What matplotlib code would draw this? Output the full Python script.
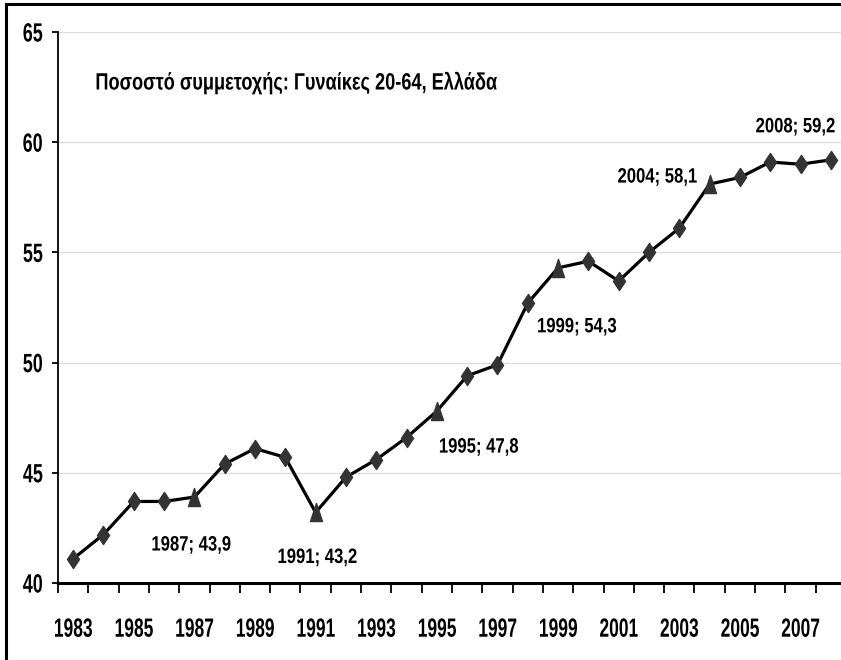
import numpy as np
import matplotlib
matplotlib.use("Agg")
import matplotlib.pyplot as plt
from matplotlib.patches import Rectangle
from matplotlib.path import Path
from matplotlib.transforms import Affine2D
from matplotlib.patheffects import AbstractPathEffect

years = list(range(1983, 2009))
rate = [41.1, 42.2, 43.7, 43.7, 43.9, 45.4, 46.1, 45.7, 43.2, 44.8, 45.6, 46.6, 47.8,
        49.4, 49.9, 52.7, 54.3, 54.6, 53.7, 55.0, 56.1, 58.1, 58.4, 59.1, 59.0, 59.2]
triangle_years = [1987, 1991, 1995, 1999, 2004]
labelled_years = [1987, 1991, 1995, 1999, 2004, 2008]
title = "Ποσοστό συμμετοχής: Γυναίκες 20-64, Ελλάδα"


class Squeeze(AbstractPathEffect):
    """Draw text horizontally condensed (the source uses a narrow font)."""
    def __init__(self, sx, anchor='center'):
        super().__init__()
        self.sx = sx
        self.anchor = anchor

    def draw_path(self, renderer, gc, tpath, affine, rgbFace=None):
        ext = tpath.get_extents()
        cx = {'left': ext.x0, 'center': (ext.x0 + ext.x1) / 2, 'right': ext.x1}[self.anchor]
        t = Affine2D().translate(-cx, 0).scale(self.sx, 1).translate(cx, 0) + affine
        renderer.draw_path(gc, tpath, t, rgbFace)


plt.rcParams['font.family'] = ['Liberation Sans', 'DejaVu Sans']
plt.rcParams['font.weight'] = 'bold'

W, H = 841, 660
fig = plt.figure(figsize=(W / 100, H / 100), dpi=100)
ax = fig.add_axes([58 / W, (H - 583) / H, 788 / W, 551 / H])

x = np.arange(len(years))
y = np.array(rate)
tri = np.array([yr in triangle_years for yr in years])

# tall markers, like the stretched original
diamond = Path([(0, 1), (0.667, 0), (0, -1), (-0.667, 0), (0, 1)],
               [Path.MOVETO, Path.LINETO, Path.LINETO, Path.LINETO, Path.CLOSEPOLY])
triangle = Path([(0, 1), (0.667, -1), (-0.667, -1), (0, 1)],
                [Path.MOVETO, Path.LINETO, Path.LINETO, Path.CLOSEPOLY])

ax.plot(x, y, color='black', lw=2.3, zorder=3)
ax.plot(x[~tri], y[~tri], ls='none', marker=diamond, ms=13, color='#333333', mec='#333333', zorder=4)
ax.plot(x[tri], y[tri], ls='none', marker=triangle, ms=13, color='#333333', mec='#333333', zorder=4)

# label placement: offset in pixels from the point, and alignment
offsets = {1987: (-3, -48), 1991: (2, -45), 1995: (42, -36), 1999: (19, -59),
           2004: (-52, 7), 2008: (5, 33)}
align = {2008: 'right'}
for yr in labelled_years:
    i = years.index(yr)
    txt = f"{yr}; {rate[i]:.1f}".replace('.', ',')
    ha = align.get(yr, 'center')
    ax.annotate(txt, (x[i], y[i]), xytext=offsets[yr], textcoords='offset pixels',
                ha=ha, va='center', fontsize=15, fontweight='bold',
                path_effects=[Squeeze(0.8, ha)])

ax.text((95 - 58) / 788, 1 - (83 - 32) / 551, title, transform=ax.transAxes, fontsize=17,
        fontweight='bold', ha='left', va='center', path_effects=[Squeeze(0.77, 'left')])

ax.set_xlim(-0.5, len(years) - 0.5)
ax.set_ylim(40, 65)
ax.set_yticks(np.arange(40, 66, 5))
ax.yaxis.grid(True, color='#dddddd', lw=1)
ax.set_axisbelow(True)

ax.set_xticks(np.arange(-0.5, len(years), 1.0))
ax.set_xticklabels([])
ax.set_xticks(x[::2], minor=True)
ax.set_xticklabels([str(v) for v in years[::2]], minor=True)
ax.tick_params(axis='x', which='major', length=7, width=1.3, direction='out')
ax.tick_params(axis='x', which='minor', length=0, pad=25, labelsize=19)
ax.tick_params(axis='y', length=4.3, width=1.3, pad=6.5, labelsize=19)
for lab in ax.get_xticklabels(minor=True):
    lab.set_path_effects([Squeeze(0.66)])
for lab in ax.get_yticklabels():
    lab.set_path_effects([Squeeze(0.68, 'right')])

for s in ['top', 'right']:
    ax.spines[s].set_visible(False)
ax.spines['left'].set_linewidth(1.3)
ax.spines['bottom'].set_linewidth(2.2)

fig.patches.append(Rectangle((6 / W, -0.1), 1.2, (H - 4) / H + 0.1, transform=fig.transFigure,
                             fill=False, ec='black', lw=2.2))

fig.savefig("out.png", dpi=100)
